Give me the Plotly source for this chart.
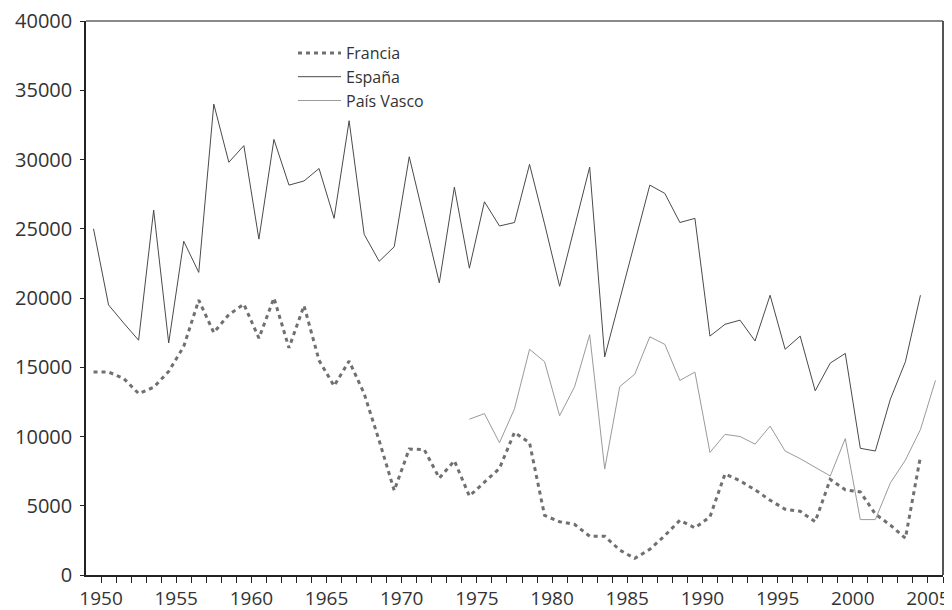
import plotly.graph_objects as go

years_es = list(range(1950, 2006))
espana = [25000, 19500, 18200, 16950, 26350, 16750, 24100, 21850, 34000, 29800,
          31000, 24250, 31450, 28150, 28450, 29350, 25750, 32800, 24600, 22650,
          23700, 30200, 25650, 21100, 28000, 22150, 26950, 25200, 25450, 29650,
          25350, 20850, 25150, 29450, 15750, 19900, 24000, 28150, 27550, 25450,
          25750, 17250, 18100, 18400, 16900, 20200, 16300, 17250, 13300, 15300,
          16000, 9150, 8950, 12700, 15400, 20200]

years_fr = list(range(1950, 2006))
francia = [14650, 14650, 14200, 13100, 13550, 14700, 16500, 19850, 17500, 18800,
           19550, 17100, 20000, 16400, 19450, 15500, 13650, 15450, 13100, 9700,
           6100, 9100, 9050, 7000, 8250, 5700, 6700, 7700, 10300, 9550,
           4300, 3850, 3650, 2800, 2800, 1800, 1200, 1850, 2850, 3950,
           3400, 4200, 7300, 6800, 6150, 5400, 4750, 4600, 3850, 6900,
           6150, 6000, 4400, 3600, 2650, 8550]

years_pv = list(range(1975, 2007))
pais_vasco = [11250, 11650, 9550, 12000, 16300, 15400, 11500, 13600, 17350, 7650,
              13600, 14500, 17200, 16650, 14050, 14650, 8850, 10150, 10000, 9450,
              10750, 8950, 8400, 7800, 7150, 9850, 4000, 4000, 6650, 8300,
              10500, 14050]

tick_years = list(range(1950, 2007))
tick_labels = [str(y) if y % 5 == 0 else "" for y in tick_years]
y_ticks = list(range(0, 40001, 5000))

FONT = "Open Sans"

fig = go.Figure()
fig.add_trace(go.Scatter(x=years_fr, y=francia, mode="lines", name="Francia",
                         legendgroup="a",
                         line=dict(color="#707070", width=3, dash="4px,4px")))
fig.add_trace(go.Scatter(x=years_es, y=espana, mode="lines", name="España",
                         legendgroup="b",
                         line=dict(color="#4a4a4a", width=1)))
fig.add_trace(go.Scatter(x=years_pv, y=pais_vasco, mode="lines", name="País Vasco",
                         legendgroup="c",
                         line=dict(color="#9a9a9a", width=1)))

# the page body adds an 8px margin, so the figure is sized to fit the window
fig.update_layout(
    width=944, height=602,
    margin=dict(l=78, r=9, t=13, b=35, autoexpand=False),
    paper_bgcolor="white", plot_bgcolor="white",
    font=dict(family=FONT, color="#333333", size=20),
    showlegend=True,
    legend=dict(x=(293 - 86) / 857, y=1 - (15 / 554), xanchor="left", yanchor="top",
                bgcolor="rgba(0,0,0,0)", font=dict(size=16, color="#333333"),
                itemwidth=43, tracegroupgap=0),
    xaxis=dict(range=[1949.5, 2006.5], showgrid=False, zeroline=False, automargin=False,
               tickmode="array", tickvals=[y + 0.5 for y in tick_years],
               ticktext=tick_labels, ticks="outside", ticklen=6, tickwidth=1,
               tickcolor="#222222", showline=True, linecolor="#222222", linewidth=1.5,
               tickfont=dict(size=19), ticklabeloverflow="allow", ticklabelstandoff=-1),
    yaxis=dict(range=[0, 40000], showgrid=False, zeroline=False, automargin=False,
               tickmode="array", tickvals=y_ticks, ticktext=[str(v) for v in y_ticks],
               ticks="outside", ticklen=4, tickwidth=1, tickcolor="#222222",
               showline=True, linecolor="#222222", linewidth=1.5,
               tickfont=dict(size=20), ticklabeloverflow="allow", ticklabelstandoff=4),
    shapes=[
        dict(type="line", xref="paper", yref="paper", x0=0, x1=1, y0=1, y1=1,
             line=dict(color="#8a8a8a", width=2)),
        dict(type="line", xref="paper", yref="paper", x0=1, x1=1, y0=0, y1=1,
             line=dict(color="#555555", width=2)),
    ],
)

fig.write_html("out.html")
